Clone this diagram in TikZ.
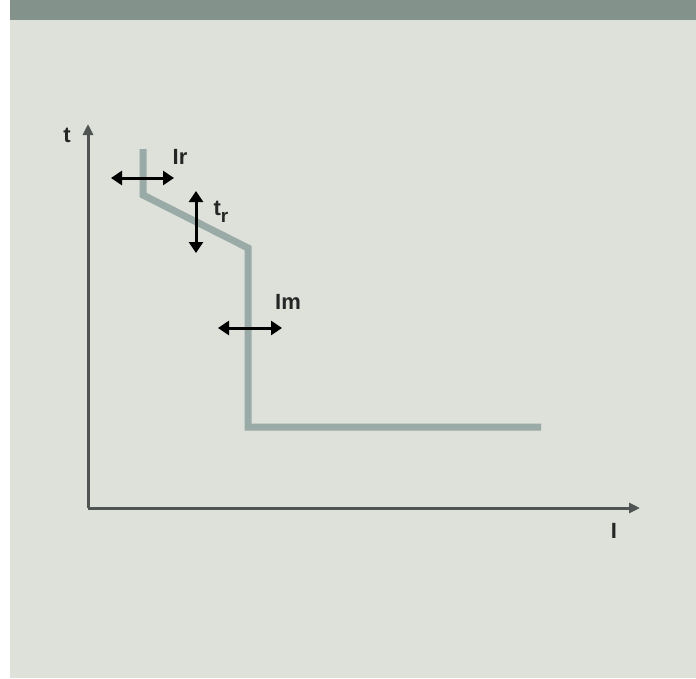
\documentclass[tikz,border=0pt]{standalone}
\usepackage{fontspec}
\setmainfont{Liberation Sans}
\usetikzlibrary{arrows.meta}
\definecolor{bgc}{HTML}{DDE1DA}
\definecolor{barc}{HTML}{84928C}
\definecolor{curvec}{HTML}{9AABA7}
\definecolor{axisc}{HTML}{505553}
\begin{document}
\begin{tikzpicture}[x=1pt,y=-1pt,
  axis/.style={draw=axisc,line width=3pt,-{Triangle[length=11pt,width=10pt]}},
  dbl/.style={draw=black,line width=3pt,{Triangle[length=11pt,width=14pt]}-{Triangle[length=11pt,width=14pt]}},
  lbl/.style={font=\fontsize{22}{26}\selectfont\bfseries,text=black!85,inner sep=0pt}]
\useasboundingbox (0,0) rectangle (696,678);
\fill[white] (0,0) rectangle (696,678);
\fill[bgc] (10,0) rectangle (696,678);
\fill[barc] (10,0) rectangle (696,20);
% axes
\coordinate (o) at (88,508);
\coordinate (ty) at (88,124);
\coordinate (ix) at (640,508);
\draw[axis] (o) -- (ty);
\draw[axis] (o) -- (ix);
\node[lbl] (tl) at (67,135) {t};
\node[lbl] (il) at (614,531) {I};
% curve
\coordinate (c1) at (143,149);
\coordinate (c2) at (143,195);
\coordinate (c3) at (248,248);
\coordinate (c4) at (248,427);
\coordinate (c5) at (541,427);
\draw[curvec,line width=7pt,line join=miter] (c1) -- (c2) -- (c3) -- (c4) -- (c5);
% adjusters
\coordinate (ir1) at (111,178);
\coordinate (ir2) at (174,178);
\draw[dbl] (ir1) -- (ir2);
\node[lbl] (irl) at (180,157) {Ir};
\coordinate (tr1) at (196,191);
\coordinate (tr2) at (196,253);
\draw[dbl] (tr1) -- (tr2);
\node[lbl] (trl) at (221,212) {t\raisebox{-7pt}{\fontsize{19}{22}\selectfont r}};
\coordinate (im1) at (218,328);
\coordinate (im2) at (282,328);
\draw[dbl] (im1) -- (im2);
\node[lbl] (iml) at (288,302) {Im};
\end{tikzpicture}
\end{document}
